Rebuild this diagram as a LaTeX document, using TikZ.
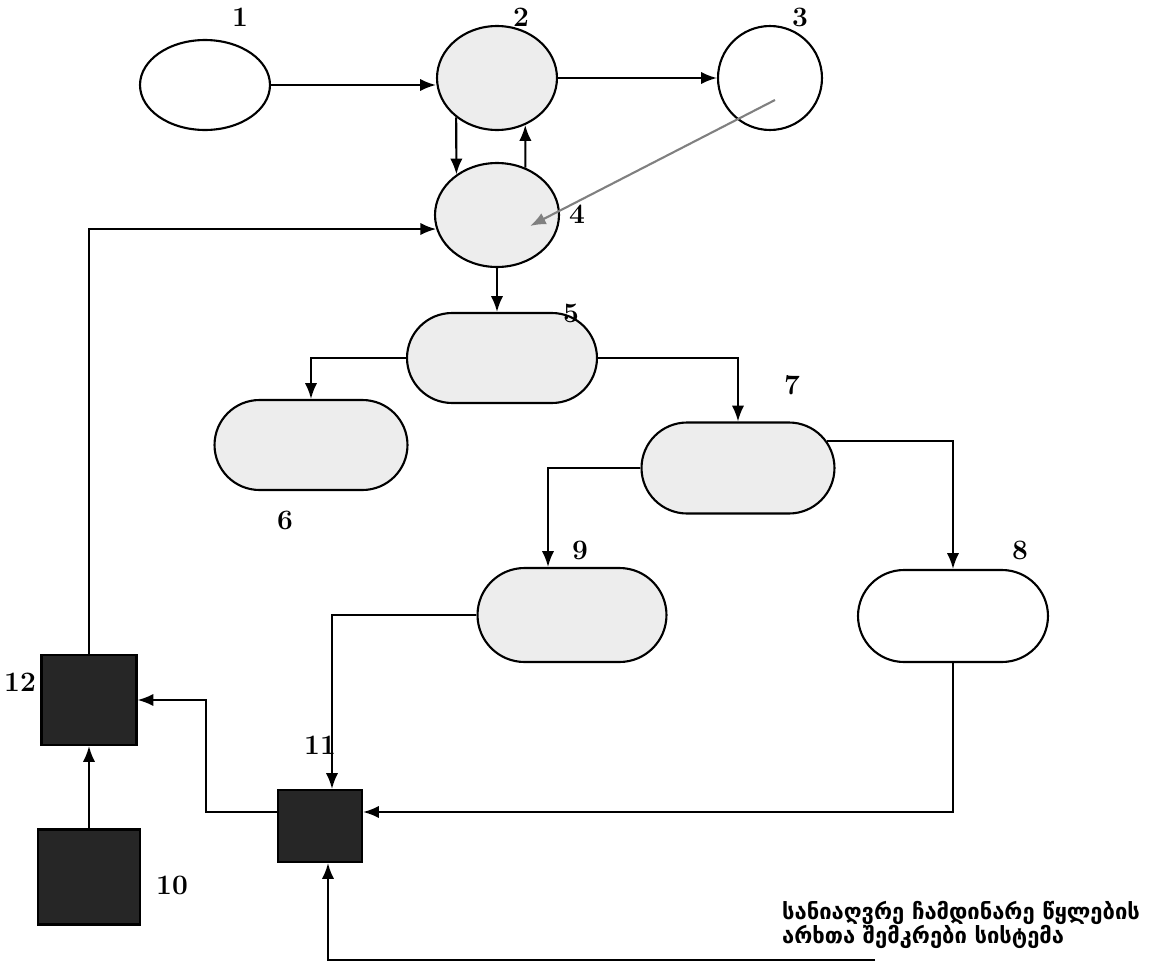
\documentclass[tikz,border=0pt]{standalone}
\usepackage{fontspec}
\usepackage{xcolor}
\usepackage{tikz}
\usetikzlibrary{shapes.geometric,shapes.misc,arrows.meta}
\newfontfamily\geofont[Script=Georgian]{DejaVu Sans}

\tikzset{
    oval/.style={ellipse, draw, line width=1.2pt, inner sep=0pt},
    pill/.style={rounded rectangle, draw, line width=1.2pt, inner sep=0pt},
    blk/.style={rectangle, draw, line width=1.2pt, fill=black!85, inner sep=0pt},
    dots/.style={fill=gray!14},
    num/.style={font=\fontsize{16}{18}\selectfont\bfseries},
    flow/.style={line width=1.2pt, -{Latex[length=9pt,width=7pt]}},
}

\begin{document}
\begin{tikzpicture}[x=0.02cm, y=-0.02cm]
\useasboundingbox (0,0) rectangle (1161,967);

% top row
\node[oval, minimum width=2.6cm, minimum height=1.8cm] (e1) at (205,85) {};
\node[oval, dots, minimum width=2.4cm, minimum height=2.08cm] (e2) at (497,78) {};
\node[oval, minimum width=2.08cm, minimum height=2.08cm] (e3) at (770,78) {};
\node[oval, dots, minimum width=2.48cm, minimum height=2.08cm] (e4) at (497,215) {};

% rounded tanks
\node[pill, dots, minimum width=3.8cm, minimum height=1.8cm] (s5) at (502,358) {};
\node[pill, dots, minimum width=3.86cm, minimum height=1.8cm] (s6) at (311,445) {};
\node[pill, dots, minimum width=3.86cm, minimum height=1.82cm] (s7) at (738,468) {};
\node[pill, dots, minimum width=3.78cm, minimum height=1.88cm] (s9) at (572,615) {};
\node[pill, minimum width=3.8cm, minimum height=1.84cm] (s8) at (953,616) {};

% black boxes
\node[blk, minimum width=1.68cm, minimum height=1.44cm] (b11) at (320,826) {};
\node[blk, minimum width=1.9cm, minimum height=1.8cm] (b12) at (89,700) {};
\node[blk, minimum width=2.04cm, minimum height=1.9cm] (b10) at (89,877) {};

% numbers
\node[num] (n1) at (240,17) {1};
\node[num] (n2) at (521,17) {2};
\node[num] (n3) at (800,17) {3};
\node[num] (n4) at (577,214) {4};
\node[num] (n5) at (571,313) {5};
\node[num] (n6) at (285,520) {6};
\node[num] (n7) at (792,385) {7};
\node[num] (n8) at (1020,550) {8};
\node[num] (n9) at (580,550) {9};
\node[num] (n11) at (320,745) {11};
\node[num] (n12) at (20,682) {12};
\node[num] (n10) at (172,885) {10};

% caption
\node[anchor=west, align=left, font=\geofont\fontsize{12.5}{14}\selectfont\bfseries] (cap) at (776,925)
    {სანიაღვრე ჩამდინარე წყლების\\არხთა შემკრები სისტემა};
\coordinate (inlet) at (875,960);

% connections
\draw[flow] (e1.east) -- (e1.east -| e2.west);
\draw[flow] (e2.east) -- (e3.west);
\draw[flow] (e2.224) -- (e4.135);
\draw[flow] (e4.59) -- (e2.301);
\draw[flow, gray] ([shift={(0.1cm,-0.44cm)}]e3.center) -- ([shift={(0.66cm,-0.22cm)}]e4.center);
\draw[flow] (b12.north) |- (e4.193);
\draw[flow] (e4.south) -- (e4.south |- s5.north);
\draw[flow] (s5.west) -| (s6.north);
\draw[flow] (s5.east) -| (s7.north);
\draw[flow] (s7.west) -| ([xshift=-0.48cm]s9.north);
\draw[flow] (s7.17) -| (s8.north);
\draw[flow] (s9.west) -| ([xshift=0.24cm]b11.north);
\draw[flow] (s8.south) |- ([yshift=0.28cm]b11.east);
\draw[flow] ([yshift=0.28cm]b11.west) -- ++(-71,0) |- (b12.east);
\draw[flow] (b10.north) -- (b12.south);
\draw[flow] (inlet) -| ([xshift=0.16cm]b11.south);
\end{tikzpicture}
\end{document}
